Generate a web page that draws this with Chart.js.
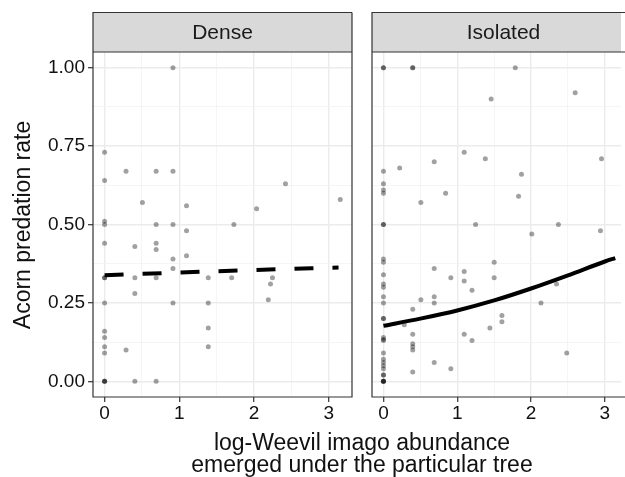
<!DOCTYPE html>
<html>
<head>
<meta charset="utf-8">
<title>Acorn predation rate</title>
<script src="https://cdn.jsdelivr.net/npm/chart.js@4.4.1/dist/chart.umd.min.js"></script>
<style>
  body { margin: 0; overflow: hidden; background: #fff; }
  #wrap { position: relative; width: 625px; height: 477px; overflow: hidden; font-family: "Liberation Sans", Arial, sans-serif; color: #111; }
  canvas { position: absolute; top: 0; }
  #left { left: 0; }
  #right { left: 368px; }
  #ytitle { position: absolute; left: -178px; top: 212px; width: 400px; text-align: center; font-size: 23px; line-height: 26px; transform: rotate(-90deg); }
  #xtitle { position: absolute; left: 62px; top: 431px; width: 600px; text-align: center; font-size: 23px; line-height: 22px; }
</style>
</head>
<body>
<div id="wrap">
  <canvas id="left" width="356" height="430"></canvas>
  <canvas id="right" width="257" height="430"></canvas>
  <div id="ytitle">Acorn predation rate</div>
  <div id="xtitle">log-Weevil imago abundance<br>emerged under the particular tree</div>
</div>
<script>
// panels
const panels = ['Dense', 'Isolated'];

// Dense: points
const denseX = [0.915, 0, 0.287, 0.69, 0.915, 0, 2.42, 0.506, 1.096, 2.034, 3.153,
  0, 0, 0.69, 0.915, 1.73, 1.096, 0, 0.405, 0.69, 0.69, 0.915, 1.096, 0.915,
  0, 0, 0.405, 0.69, 1.387, 1.70, 2.246, 2.22, 2.19, 0.405,
  0, 0.915, 1.387, 1.387, 1.387, 0, 0, 0, 0, 0.287, 0, 0, 0, 0.405, 0.69];
const denseY = [1.00, 0.73, 0.67, 0.67, 0.67, 0.64, 0.63, 0.57, 0.56, 0.55, 0.58,
  0.51, 0.50, 0.50, 0.50, 0.50, 0.48, 0.44, 0.43, 0.44, 0.42, 0.39, 0.40, 0.36,
  0.33, 0.33, 0.33, 0.33, 0.33, 0.33, 0.33, 0.31, 0.26, 0.28,
  0.25, 0.25, 0.25, 0.17, 0.11, 0.16, 0.14, 0.11, 0.09, 0.10, 0, 0, 0, 0, 0];

// Isolated: points
const isoX = [0, 0, 0.397, 0.397, 1.786, 1.459, 2.597, 1.094, 1.38, 2.954, 0.688, 0.22,
  0, 1.87, 0, 0, 0, 0.842, 1.83, 0.507, 0, 0, 1.248, 2.37, 2.01, 2.94,
  0, 0, 1.5, 0.688, 1.094, 0, 0.913, 1.5, 1.094, 0, 0, 2.345, 1.2,
  0, 0.688, 0.507, 0, 0.688, 2.134, 0.397, 1.605, 1.605, 0, 0, 0.282, 1.442,
  0.397, 1.094, 1.2, 0, 0, 0, 0.397, 0.397, 0.397, 0, 2.483,
  0, 0, 0, 0, 0.688, 0.913, 0.397, 0, 0, 0, 0, 0, 0];
const isoY = [1, 1, 1, 1, 1, 0.90, 0.92, 0.73, 0.71, 0.71, 0.70, 0.68,
  0.67, 0.66, 0.63, 0.61, 0.60, 0.60, 0.59, 0.57, 0.50, 0.50, 0.50, 0.50, 0.47, 0.48,
  0.39, 0.38, 0.38, 0.36, 0.35, 0.34, 0.33, 0.33, 0.32, 0.31, 0.30, 0.31, 0.29,
  0.27, 0.27, 0.26, 0.25, 0.25, 0.25, 0.23, 0.21, 0.19, 0.20, 0.20, 0.18, 0.17,
  0.15, 0.15, 0.13, 0.14, 0.133, 0.13, 0.12, 0.11, 0.10, 0.09, 0.09,
  0.07, 0.06, 0.05, 0.04, 0.06, 0.04, 0.03, 0.02, 0.02, 0, 0, 0, 0];

// fitted lines
const denseFitX = [0, 1, 2, 3.13];
const denseFitY = [0.338, 0.347, 0.355, 0.363];
const isoFitX = [0, 0.5, 1, 1.5, 2, 2.5, 3, 3.14];
const isoFitY = [0.177, 0.200, 0.226, 0.258, 0.296, 0.338, 0.382, 0.393];

// axes
const xTicks = [0, 1, 2, 3];
const xMinor = [0.5, 1.5, 2.5];
const yTicks = [0, 0.25, 0.5, 0.75, 1];
const yMinor = [0.125, 0.375, 0.625, 0.875];

const FONT = '"Liberation Sans", Arial, sans-serif';
const STRIP_TOP = 12.5;

function pts(xs, ys) { return xs.map((x, i) => ({x: x, y: ys[i]})); }
const isMajor = (list, v) => list.some(t => Math.abs(t - v) < 1e-9);

// panel border + facet strip; the right panel runs off the page, so no right edge there
const facetPlugin = {
  id: 'facet',
  afterDraw(chart, args, opts) {
    const ctx = chart.ctx, a = chart.chartArea;
    const w = a.right - a.left;
    ctx.save();
    ctx.fillStyle = '#d9d9d9';
    ctx.fillRect(a.left, STRIP_TOP, w, a.top - STRIP_TOP);
    ctx.strokeStyle = '#333';
    ctx.lineWidth = 1.2;
    const right = opts.openRight ? a.right + 5 : a.right;
    ctx.beginPath();
    [[a.left, STRIP_TOP, a.top], [a.left, a.top, a.bottom]].forEach(([x, y0, y1]) => {
      ctx.moveTo(right, y0); ctx.lineTo(x, y0); ctx.lineTo(x, y1); ctx.lineTo(right, y1);
      if (!opts.openRight) { ctx.lineTo(right, y0); }
    });
    ctx.stroke();
    ctx.fillStyle = '#1a1a1a';
    ctx.font = '21px ' + FONT;
    ctx.textAlign = 'center';
    ctx.textBaseline = 'middle';
    const cx = opts.openRight ? a.left + 131.5 : (a.left + a.right) / 2;
    ctx.fillText(opts.label, cx, (STRIP_TOP + a.top) / 2 + 1);
    ctx.restore();
  }
};

function makePanel(id, label, px, py, fx, fy, dashed, showY, xMax) {
  new Chart(document.getElementById(id), {
    type: 'scatter',
    data: {
      datasets: [
        {
          data: pts(fx, fy), showLine: true, pointRadius: 0, borderColor: '#000',
          borderWidth: 4, borderDash: dashed ? [19, 19] : [], borderCapStyle: 'butt',
          cubicInterpolationMode: 'monotone', order: 0
        },
        {
          data: pts(px, py), pointRadius: 2.5, pointBorderWidth: 0,
          backgroundColor: 'rgba(0,0,0,0.37)', order: 1
        }
      ]
    },
    options: {
      responsive: false,
      animation: false,
      layout: { padding: { top: 52, left: 0, right: 0, bottom: 0 } },
      plugins: { legend: { display: false }, tooltip: { enabled: false }, facet: { label: label, openRight: !showY } },
      scales: {
        x: {
          type: 'linear', min: -0.155, max: xMax,
          afterBuildTicks: s => { s.ticks = xTicks.concat(xMinor).sort((a, b) => a - b).map(v => ({value: v})); },
          afterFit: s => { s.height = 33; },
          border: { display: false },
          grid: {
            color: c => isMajor(xTicks, c.tick.value) ? '#ebebeb' : '#f2f2f2',
            lineWidth: c => isMajor(xTicks, c.tick.value) ? 1.4 : 0.8,
            tickColor: c => isMajor(xTicks, c.tick.value) ? '#333' : 'rgba(0,0,0,0)',
            tickLength: 5, tickWidth: 1.2
          },
          ticks: {
            autoSkip: false, maxRotation: 0, padding: 0, color: '#111',
            font: { family: FONT, size: 19 },
            callback: v => isMajor(xTicks, v) ? String(v) : ''
          }
        },
        y: {
          type: 'linear', min: -0.05, max: 1.05,
          afterBuildTicks: s => { s.ticks = yTicks.concat(yMinor).sort((a, b) => a - b).map(v => ({value: v})); },
          afterFit: s => { s.width = showY ? 93 : 1; },
          border: { display: false },
          grid: {
            color: c => isMajor(yTicks, c.tick.value) ? '#ebebeb' : '#f2f2f2',
            lineWidth: c => isMajor(yTicks, c.tick.value) ? 1.4 : 0.8,
            tickColor: c => isMajor(yTicks, c.tick.value) ? '#333' : 'rgba(0,0,0,0)',
            drawTicks: showY, tickLength: 5, tickWidth: 1.2
          },
          ticks: {
            display: showY, autoSkip: false, padding: 3, color: '#111',
            font: { family: FONT, size: 19 },
            callback: v => isMajor(yTicks, v) ? v.toFixed(2) : ''
          }
        }
      }
    },
    plugins: [facetPlugin]
  });
}

makePanel('left', panels[0], denseX, denseY, denseFitX, denseFitY, true, true, 3.31);
makePanel('right', panels[1], isoX, isoY, isoFitX, isoFitY, false, false, 3.218);
</script>
</body>
</html>
